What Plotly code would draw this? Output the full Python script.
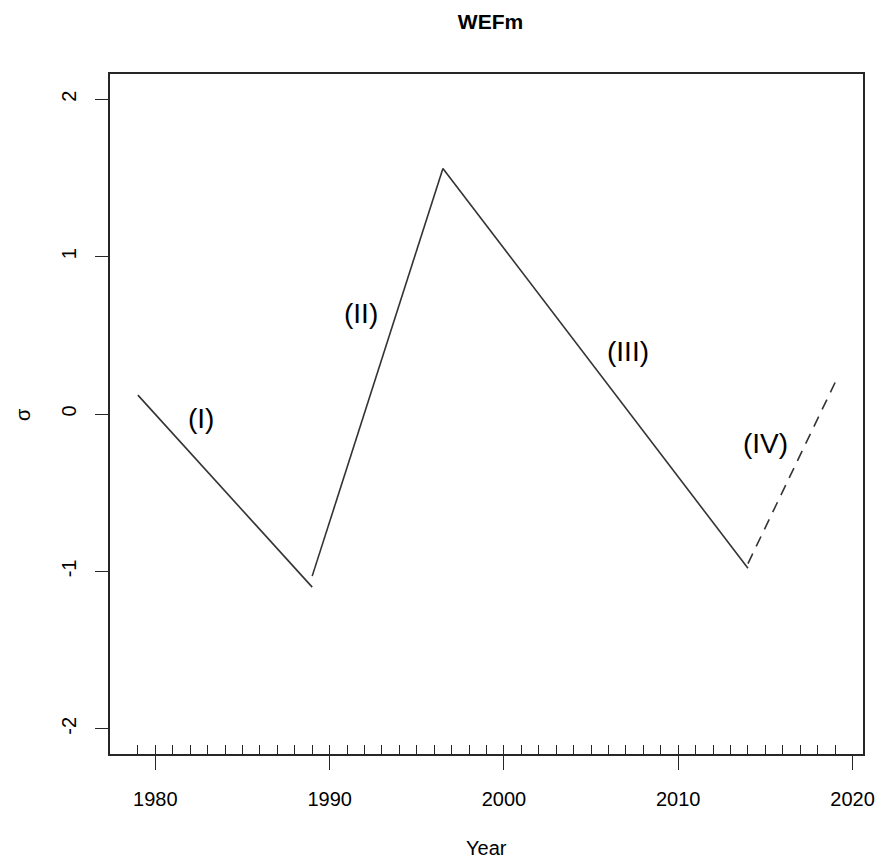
import plotly.graph_objects as go

# Segment data (year, sigma)
seg1_x = [1979, 1989]
seg1_y = [0.12, -1.10]
seg2_x = [1989, 1996.5]
seg2_y = [-1.03, 1.56]
seg3_x = [1996.5, 2014]
seg3_y = [1.56, -0.98]
seg4_x = [2014, 2019]
seg4_y = [-0.95, 0.20]

label_text = ["(I)", "(II)", "(III)", "(IV)"]
label_x = [1982.6, 1991.8, 2007.1, 2015.0]
label_y = [-0.03, 0.64, 0.40, -0.19]

x_ticks = [1980, 1990, 2000, 2010, 2020]
y_ticks = [-2, -1, 0, 1, 2]
minor_years = list(range(1979, 2020))

XR = [1977.4, 2020.6]
YR = [-2.16, 2.16]

LINE = "#262626"
FONT = "Liberation Sans, Arial, sans-serif"

fig = go.Figure()
for xs, ys, dash in [(seg1_x, seg1_y, "solid"), (seg2_x, seg2_y, "solid"),
                     (seg3_x, seg3_y, "solid"), (seg4_x, seg4_y, "11px,8px")]:
    fig.add_trace(go.Scatter(x=xs, y=ys, mode="lines",
                             line=dict(color="#333333", width=1.6, dash=dash),
                             showlegend=False, hoverinfo="skip"))
# helper trace to instantiate the overlaid minor-tick axis
fig.add_trace(go.Scatter(x=[None], y=[None], xaxis="x2", yaxis="y",
                         mode="lines", showlegend=False, hoverinfo="skip"))

for t, x, y in zip(label_text, label_x, label_y):
    fig.add_annotation(x=x, y=y, text=t, showarrow=False,
                       font=dict(size=28, color="black", family=FONT))

fig.add_annotation(xref="paper", yref="paper", x=0.5, y=(754 - 848) / 680,
                   text="Year", showarrow=False, yanchor="middle",
                   font=dict(size=20, color="black", family=FONT))
fig.add_annotation(xref="paper", yref="paper", x=(22 - 110) / 761, y=0.5,
                   text="σ", showarrow=False, textangle=-90, xanchor="center",
                   font=dict(size=20, color="black", family=FONT))

fig.update_layout(
    width=887, height=862,
    margin=dict(l=110, r=16, t=74, b=108),
    plot_bgcolor="white", paper_bgcolor="white",
    title=dict(text="<b>WEFm</b>", x=(110 + 871) / 2 / 887, xanchor="center",
               yref="container", y=1 - 22 / 862, yanchor="middle",
               font=dict(size=21, color="black", family=FONT)),
    xaxis=dict(range=XR, tickvals=x_ticks, ticktext=[str(v) for v in x_ticks],
               ticks="outside", ticklen=14, tickwidth=1.3, tickcolor=LINE,
               showline=True, linecolor=LINE, linewidth=1.8, mirror=True,
               showgrid=False, zeroline=False, ticklabelstandoff=12,
               tickfont=dict(size=20, color="black", family=FONT)),
    xaxis2=dict(range=XR, overlaying="x", side="bottom", tickvals=minor_years,
                ticks="inside", ticklen=9, tickwidth=1.3, tickcolor=LINE,
                showticklabels=False, showline=False, showgrid=False,
                zeroline=False),
    yaxis=dict(range=YR, tickvals=y_ticks, ticktext=[str(v) for v in y_ticks],
               ticks="outside", ticklen=13, tickwidth=1.3, tickcolor=LINE,
               showline=True, linecolor=LINE, linewidth=1.8, mirror=True,
               showgrid=False, zeroline=False, tickangle=-90,
               ticklabelstandoff=11,
               tickfont=dict(size=20, color="black", family=FONT)),
)

fig.write_html("out.html")
